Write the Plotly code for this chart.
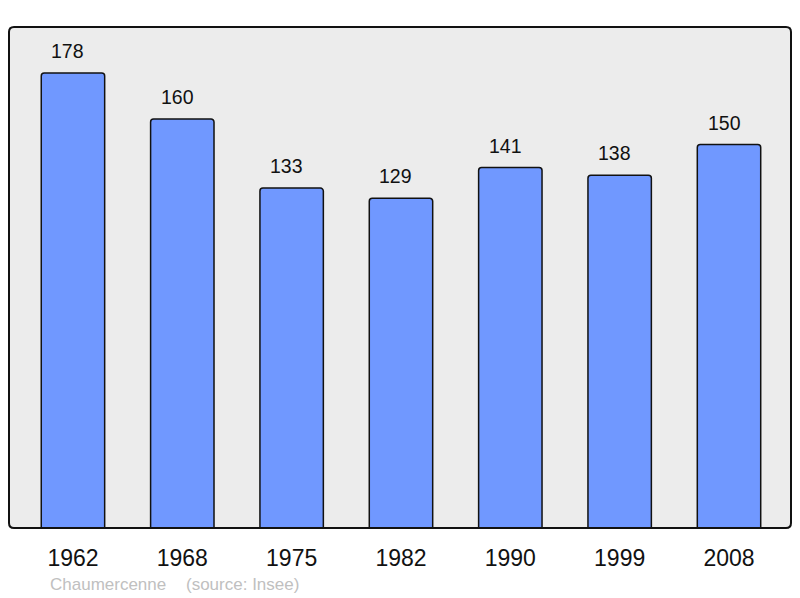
import plotly.graph_objects as go

years = ["1962", "1968", "1975", "1982", "1990", "1999", "2008"]
population = [178, 160, 133, 129, 141, 138, 150]
commune = "Chaumercenne"
source = "(source: Insee)"

xpos = list(range(len(years)))
FONT = "Liberation Sans, Arial, sans-serif"

W, H = 800, 598
L, T, R, B = 9, 27, 9, 70
pw, ph = W - L - R, H - T - B

fig = go.Figure()
fig.add_trace(go.Bar(
    x=xpos, y=population, width=0.58,
    marker=dict(color="#7098ff", line=dict(color="#111111", width=1.5), cornerradius=3),
    hoverinfo="skip",
))

for x, v in zip(xpos, population):
    fig.add_annotation(x=x, y=v, text=str(v), showarrow=False, yanchor="bottom",
                       yshift=9, xshift=-5,
                       font=dict(size=19.5, color="#111111", family=FONT))

src_y = -(584 - 528) / ph
fig.add_annotation(xref="paper", yref="paper", x=(49 - 9) / pw, y=src_y,
                   xanchor="left", yanchor="middle", showarrow=False, xshift=-1,
                   text=commune, font=dict(size=17, color="#c0c0c0", family=FONT))
fig.add_annotation(xref="paper", yref="paper", x=(185 - 9) / pw, y=src_y,
                   xanchor="left", yanchor="middle", showarrow=False, xshift=-1,
                   text=source, font=dict(size=17, color="#c0c0c0", family=FONT))

# rounded border of the plot area
r = 5 / pw
ry = 5 / ph
path = (f"M {r},0 L {1-r},0 Q 1,0 1,{ry} L 1,{1-ry} Q 1,1 {1-r},1 "
        f"L {r},1 Q 0,1 0,{1-ry} L 0,{ry} Q 0,0 {r},0 Z")
fig.add_shape(type="path", xref="paper", yref="paper", path=path,
              line=dict(color="#111111", width=2), layer="above")

fig.update_layout(
    width=W, height=H,
    margin=dict(l=L, r=R, t=T, b=B, pad=0),
    paper_bgcolor="white", plot_bgcolor="#ececec",
    showlegend=False,
    xaxis=dict(range=[-0.585, 6.567], tickvals=xpos, ticktext=years,
               showgrid=False, zeroline=False, showline=False, fixedrange=True,
               ticks="outside", ticklen=9, tickcolor="rgba(0,0,0,0)",
               tickfont=dict(size=23, color="#111111", family=FONT)),
    yaxis=dict(range=[0, 196], showgrid=False, zeroline=False, showticklabels=False,
               showline=False, fixedrange=True),
)

fig.write_html("out.html", config={"displayModeBar": False},
               post_script="document.body.style.margin='0';document.body.style.overflow='hidden';")
